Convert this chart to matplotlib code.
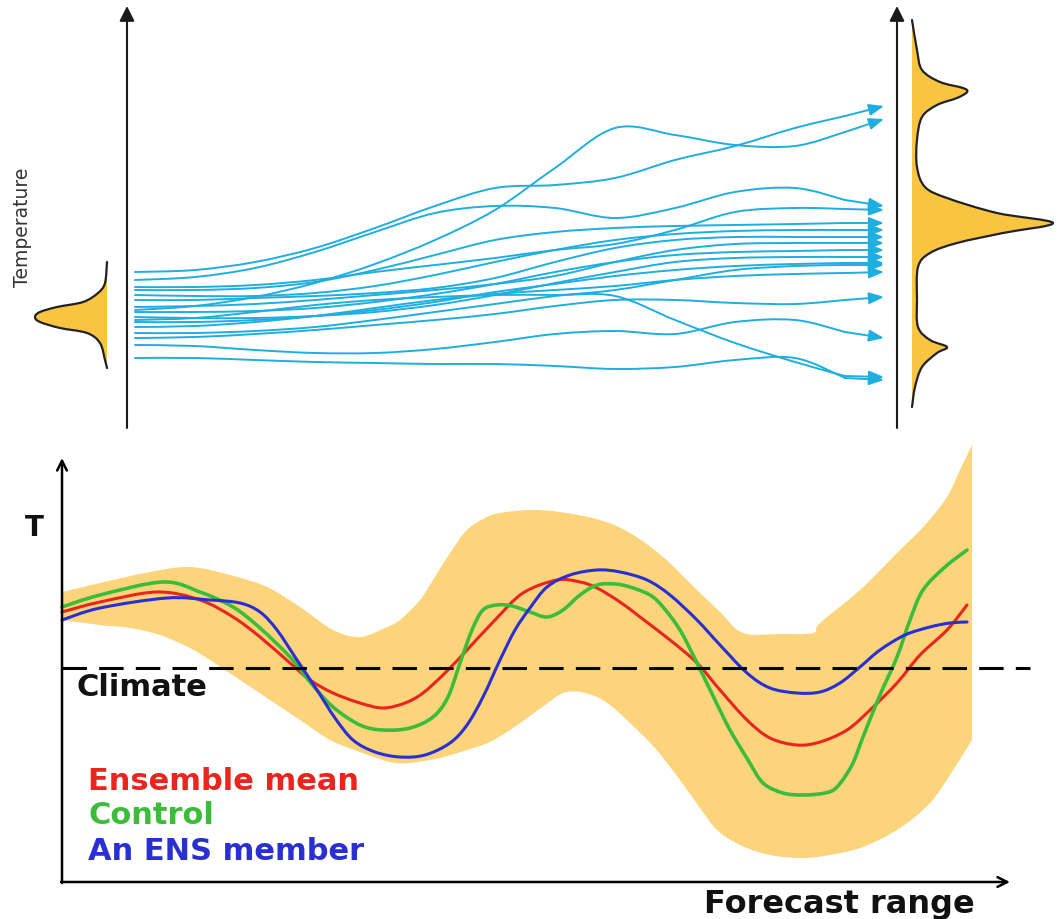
import matplotlib
matplotlib.use("Agg")
import matplotlib.pyplot as plt
from matplotlib.path import Path
from matplotlib.patches import PathPatch

#---------- colours ----------
BLUE_TRAJ = '#1eaee0'
PDF_FILL = '#f9c440'
BAND_FILL = '#fcd47c'
RED = '#e8261e'
GREEN = '#3cbd3a'
BLUE = '#2a2fd2'

#---------- top panel: ensemble trajectories ----------
x_top = [135, 195, 255, 315, 375, 435, 495, 555, 615, 675, 735, 795, 845, 884]
trajectories = [
    [272, 270, 262, 248, 228, 206, 188, 185, 178, 160, 146, 128, 116, 106],
    [310, 306, 297, 283, 264, 240, 210, 168, 128, 135, 145, 146, 132, 119],
    [280, 277, 268, 252, 232, 213, 206, 208, 218, 208, 192, 188, 200, 206],
    [287, 287, 285, 280, 272, 265, 258, 250, 244, 230, 212, 208, 209, 210],
    [290, 290, 288, 282, 270, 255, 240, 232, 228, 226, 225, 224, 223, 223],
    [295, 296, 296, 293, 286, 275, 262, 250, 240, 234, 231, 230, 230, 230],
    [300, 300, 298, 296, 293, 288, 278, 262, 248, 240, 237, 237, 237, 237],
    [307, 306, 304, 300, 295, 290, 284, 276, 262, 250, 244, 243, 243, 243],
    [312, 312, 311, 308, 302, 294, 284, 272, 262, 255, 252, 251, 250, 250],
    [317, 318, 318, 316, 312, 305, 295, 283, 272, 262, 258, 257, 257, 257],
    [322, 322, 320, 316, 310, 302, 292, 284, 276, 270, 266, 264, 263, 263],
    [327, 326, 322, 316, 308, 300, 294, 290, 286, 280, 276, 274, 273, 272],
    [333, 333, 331, 327, 320, 312, 304, 296, 290, 280, 270, 266, 265, 265],
    [338, 337, 334, 330, 325, 320, 314, 306, 300, 300, 303, 304, 300, 297],
    [320, 318, 312, 305, 300, 297, 295, 295, 296, 320, 343, 362, 376, 377],
    [345, 346, 350, 353, 353, 349, 342, 334, 331, 334, 322, 320, 332, 338],
    [358, 358, 360, 362, 363, 364, 364, 366, 369, 367, 360, 358, 378, 380],
]

# initial pdf (left) and forecast pdf (right), outline points
pdf0_x = [107, 105, 98, 83, 57, 40, 35, 40, 60, 87, 100, 105, 107]
pdf0_y = [262, 283, 293, 302, 307, 312, 317, 322, 328, 333, 343, 360, 368]
pdf1_x = [912, 917, 922, 940, 963, 967, 957, 937, 922, 917, 917, 925, 947, 997, 1053,
          1003, 957, 930, 918, 917, 918, 930, 947, 937, 922, 915, 912]
pdf1_y = [20, 50, 70, 82, 88, 92, 98, 105, 117, 140, 167, 187, 198, 213, 223,
          233, 243, 253, 267, 300, 327, 340, 347, 353, 367, 387, 407]

#---------- bottom panel: forecast plume ----------
band_up_x = [62, 100, 150, 190, 230, 267, 300, 333, 360, 385, 400, 420, 433, 450, 467, 485,
             500, 530, 560, 600, 630, 663, 697, 720, 743, 780, 813, 820, 860, 897, 925, 947,
             960, 972]
band_up_y = [592, 583, 572, 567, 575, 587, 607, 630, 637, 628, 620, 600, 580, 553, 530, 518,
             513, 510, 512, 520, 533, 557, 590, 612, 633, 634, 633, 623, 590, 553, 525, 497,
             470, 445]
band_lo_x = [972, 950, 930, 900, 863, 830, 803, 770, 740, 717, 700, 680, 655, 630, 610, 597,
             580, 563, 545, 530, 510, 490, 467, 440, 410, 390, 360, 330, 300, 270, 240, 210,
             190, 160, 130, 100, 62]
band_lo_y = [740, 775, 803, 828, 847, 855, 858, 855, 845, 830, 808, 780, 748, 723, 705, 697,
             692, 693, 705, 716, 730, 742, 750, 758, 763, 762, 752, 740, 720, 700, 680, 660,
             648, 635, 628, 625, 620]

mean_x = [62, 100, 157, 200, 233, 260, 290, 310, 333, 360, 383, 405, 423, 445, 467, 495, 523,
          557, 580, 597, 620, 640, 670, 697, 720, 747, 770, 797, 820, 847, 870, 897, 920, 947, 967]
mean_y = [612, 602, 592, 600, 617, 637, 663, 680, 693, 703, 708, 703, 693, 673, 650, 620, 593,
          580, 582, 588, 602, 617, 640, 663, 690, 720, 738, 745, 742, 730, 710, 683, 655, 630, 605]

ctrl_x = [62, 100, 163, 200, 233, 260, 290, 310, 333, 360, 383, 410, 433, 448, 460, 472, 483,
          497, 512, 530, 547, 563, 580, 597, 615, 630, 650, 663, 680, 697, 715, 730, 748, 763,
          783, 803, 825, 837, 852, 863, 880, 897, 910, 923, 945, 967]
ctrl_y = [607, 595, 582, 592, 607, 628, 657, 682, 707, 725, 730, 728, 717, 697, 663, 630, 610,
          605, 606, 612, 617, 610, 595, 585, 584, 587, 595, 607, 630, 663, 700, 730, 760, 783,
          793, 795, 793, 787, 765, 737, 695, 657, 620, 590, 567, 550]

memb_x = [62, 100, 167, 210, 240, 260, 277, 297, 317, 335, 353, 375, 400, 425, 450, 467, 483,
          500, 515, 530, 547, 570, 597, 620, 647, 670, 697, 720, 747, 770, 797, 820, 840, 860,
          880, 905, 930, 950, 967]
memb_y = [620, 608, 598, 600, 603, 612, 630, 660, 690, 718, 740, 752, 757, 755, 743, 725, 697,
          660, 630, 608, 587, 575, 570, 572, 580, 595, 620, 645, 673, 688, 693, 692, 683, 667,
          650, 635, 627, 623, 622]

climate_y = 668
legend_labels = ['Ensemble mean', 'Control', 'An ENS member']


#---------- helper: smooth bezier path through the read points ----------
def smooth(xs, ys):
    pts = list(zip(xs, ys))
    n = len(pts)
    verts = [pts[0]]
    codes = [Path.MOVETO]
    for i in range(n - 1):
        p0 = pts[i - 1] if i > 0 else pts[i]
        p1 = pts[i]
        p2 = pts[i + 1]
        p3 = pts[i + 2] if i + 2 < n else pts[i + 1]
        c1 = (p1[0] + (p2[0] - p0[0]) / 6, p1[1] + (p2[1] - p0[1]) / 6)
        c2 = (p2[0] - (p3[0] - p1[0]) / 6, p2[1] - (p3[1] - p1[1]) / 6)
        verts += [c1, c2, p2]
        codes += [Path.CURVE4] * 3
    return verts, codes


def curve(ax, xs, ys, **kw):
    v, c = smooth(xs, ys)
    ax.add_patch(PathPatch(Path(v, c), fill=False, capstyle='round', joinstyle='round', **kw))


def filled(ax, parts, **kw):
    verts, codes = [], []
    for xs, ys in parts:
        v, c = smooth(xs, ys)
        if verts:
            c[0] = Path.LINETO
        verts += v
        codes += c
    verts.append(verts[0])
    codes.append(Path.CLOSEPOLY)
    ax.add_patch(PathPatch(Path(verts, codes), **kw))


#---------- figure ----------
fig = plt.figure(figsize=(10.59, 9.19), dpi=100)
ax = fig.add_axes([0, 0, 1, 1])
ax.set_xlim(0, 1059)
ax.set_ylim(919, 0)
ax.axis('off')

# top axes (filled heads)
for xa in [127, 897]:
    ax.annotate('', xy=(xa, 6), xytext=(xa, 428),
                arrowprops=dict(arrowstyle='-|>,head_length=0.9,head_width=0.45',
                                color='#1a1a1a', lw=1.5, shrinkA=0, shrinkB=0))

# pdfs
filled(ax, [(pdf0_x, pdf0_y)], fc=PDF_FILL, ec='none')
curve(ax, pdf0_x, pdf0_y, ec='#222222', lw=1.6)
filled(ax, [(pdf1_x, pdf1_y)], fc=PDF_FILL, ec='none')
curve(ax, pdf1_x, pdf1_y, ec='#222222', lw=1.6)

# trajectories
for ty in trajectories:
    curve(ax, x_top[:-1], ty[:-1], ec=BLUE_TRAJ, lw=1.4)
    ax.annotate('', xy=(x_top[-1], ty[-1]), xytext=(x_top[-2], ty[-2]),
                arrowprops=dict(arrowstyle='-|>,head_length=0.9,head_width=0.35',
                                color=BLUE_TRAJ, lw=1.4, shrinkA=0, shrinkB=0))

ax.text(23, 227, 'Temperature', rotation=90, ha='center', va='center',
        fontsize=13.5, color='#333333')

# plume
filled(ax, [(band_up_x, band_up_y), (band_lo_x, band_lo_y)], fc=BAND_FILL, ec='none')

ax.plot([62, 1030], [climate_y, climate_y], color='black', lw=2.2, ls=(0, (8, 4)))

curve(ax, mean_x, mean_y, ec=RED, lw=2.2)
curve(ax, ctrl_x, ctrl_y, ec=GREEN, lw=2.6)
curve(ax, memb_x, memb_y, ec=BLUE, lw=2.2)

# bottom axes (open heads)
ax.annotate('', xy=(62, 458), xytext=(62, 883),
            arrowprops=dict(arrowstyle='->,head_length=0.7,head_width=0.35',
                            color='black', lw=1.8, shrinkA=0, shrinkB=0))
ax.annotate('', xy=(1010, 882), xytext=(61, 882),
            arrowprops=dict(arrowstyle='->,head_length=0.7,head_width=0.35',
                            color='black', lw=1.8, shrinkA=0, shrinkB=0))

ax.text(34, 528, 'T', ha='center', va='center', fontsize=20, fontweight='bold', color='#111111')
ax.text(76, 688, 'Climate', ha='left', va='center', fontsize=22, fontweight='bold', color='#111111')
for lab, col, yy in zip(legend_labels, [RED, GREEN, BLUE], [782, 816, 851]):
    ax.text(88, yy, lab, ha='left', va='center', fontsize=22, fontweight='bold', color=col)
ax.text(704, 904, 'Forecast range', ha='left', va='center', fontsize=23, fontweight='bold',
        color='#111111')

fig.savefig('out.png', dpi=100)
